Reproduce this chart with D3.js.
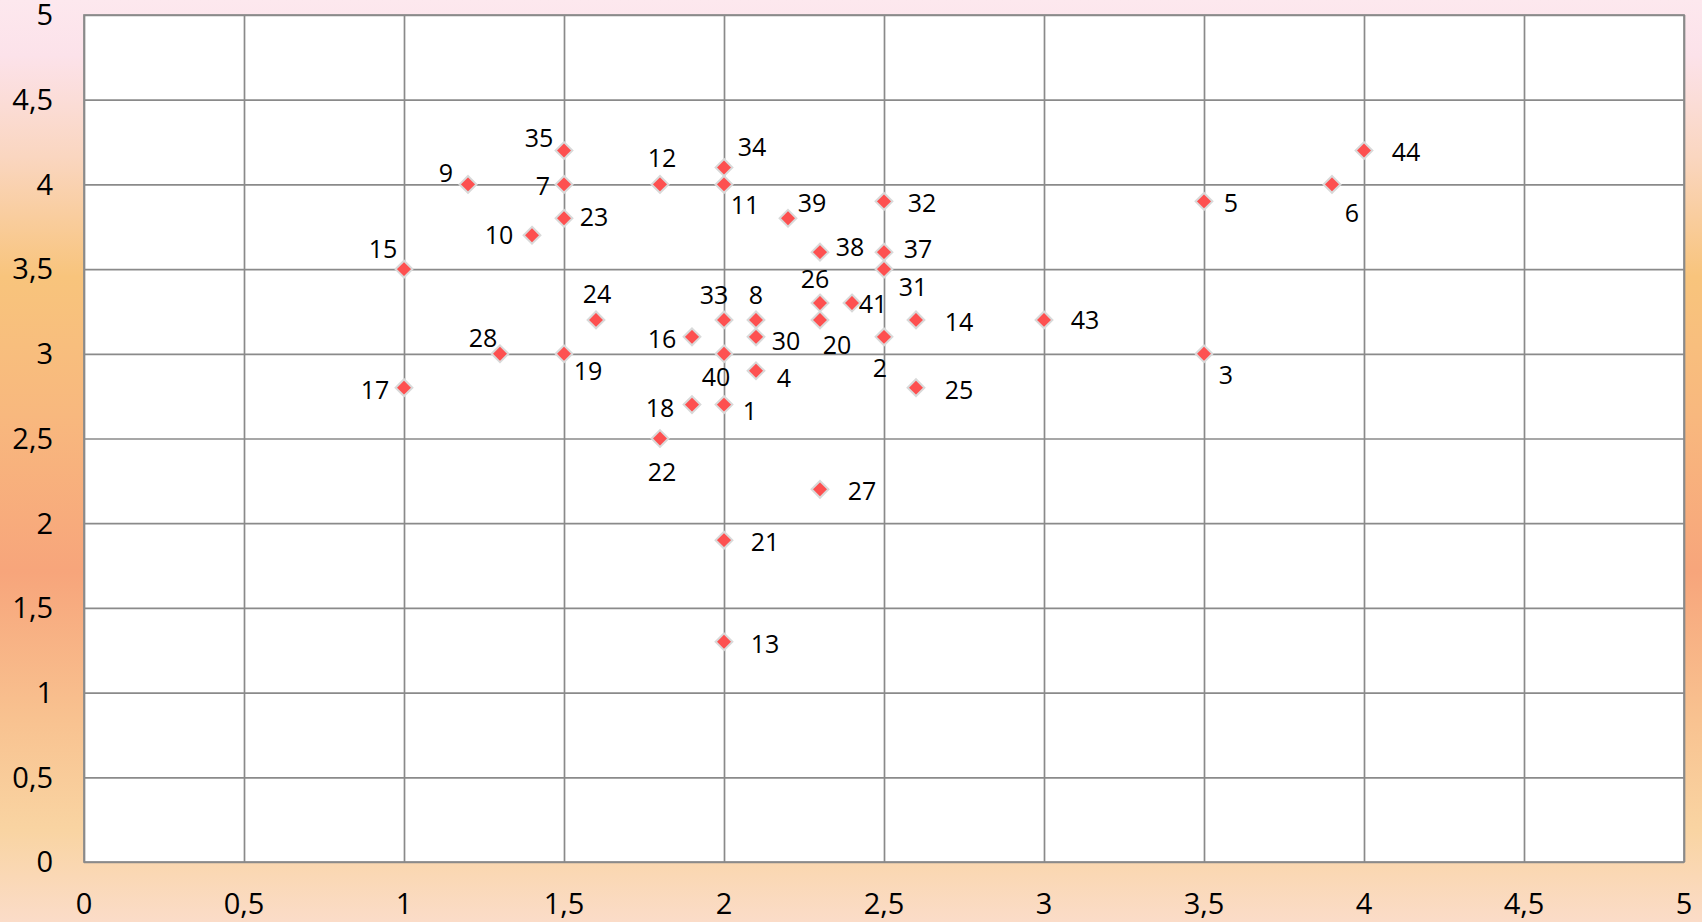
<!DOCTYPE html>
<html>
<head>
<meta charset="utf-8">
<script src="https://cdn.jsdelivr.net/npm/d3@7"></script>
<style>
  html, body { margin: 0; padding: 0; overflow: hidden; }
  svg { display: block; }
</style>
</head>
<body>
<svg id="chart" width="1702" height="922"></svg>
<script>
// ---- data ----
const pointIds = [1,2,3,4,5,6,7,8,9,10,11,12,13,14,15,16,17,18,19,20,21,22,23,24,25,26,27,28,30,31,32,33,34,35,37,38,39,40,41,43,44];
const xValues  = [2.0,2.5,3.5,2.1,3.5,3.9,1.5,2.1,1.2,1.4,2.0,1.8,2.0,2.6,1.0,1.9,1.0,1.9,1.5,2.3,2.0,1.8,1.5,1.6,2.6,2.3,2.3,1.3,2.1,2.5,2.5,2.0,2.0,1.5,2.5,2.3,2.2,2.0,2.4,3.0,4.0];
const yValues  = [2.7,3.1,3.0,2.9,3.9,4.0,4.0,3.2,4.0,3.7,4.0,4.0,1.3,3.2,3.5,3.1,2.8,2.7,3.0,3.2,1.9,2.5,3.8,3.2,2.8,3.3,2.2,3.0,3.1,3.5,3.9,3.2,4.1,4.2,3.6,3.6,3.8,3.0,3.3,3.2,4.2];
const xTickValues = [0,0.5,1,1.5,2,2.5,3,3.5,4,4.5,5];
const yTickValues = [0,0.5,1,1.5,2,2.5,3,3.5,4,4.5,5];
const tickFormat = v => String(v).replace(".", ",");

// ---- layout (label offsets, px, text centre relative to marker) ----
const labelOffsets = [
  [26,6],[-4,31],[22,21],[28,7],[27,2],[20,29],[-21,2],[0,-25],[-22,-11],[-33,0],
  [21,21],[2,-26],[41,2],[43,2],[-21,-20],[-30,2],[-29,2],[-32,3],[24,17],[17,25],
  [41,2],[2,34],[30,-1],[1,-26],[43,2],[-5,-24],[42,2],[-17,-16],[30,4],[29,18],
  [38,2],[-10,-25],[28,-20],[-25,-12],[34,-3],[30,-5],[24,-15],[-8,23],[21,1],[41,0],[42,2]
];

const W = 1702, H = 922;
const plot = { left: 84, right: 1684, top: 15, bottom: 862 };
const svg = d3.select("#chart");

// background gradient
const defs = svg.append("defs");
const grad = defs.append("linearGradient").attr("id", "bg").attr("x1", 0).attr("y1", 0).attr("x2", 0).attr("y2", 1);
[[0,"#fde8ee"],[0.06,"#fce2ea"],[0.17,"#fad6c0"],[0.30,"#f8c47c"],[0.45,"#f8b87e"],[0.62,"#f7a57b"],[0.78,"#f8c290"],[0.90,"#f9d4a2"],[1,"#fbdcc8"]]
  .forEach(([o,c]) => grad.append("stop").attr("offset", o).attr("stop-color", c));
svg.append("rect").attr("width", W).attr("height", H).attr("fill", "url(#bg)");

const x = d3.scaleLinear().domain([0,5]).range([plot.left, plot.right]);
const y = d3.scaleLinear().domain([0,5]).range([plot.bottom, plot.top]);

// plot area
svg.append("rect")
  .attr("x", plot.left).attr("y", plot.top)
  .attr("width", plot.right - plot.left).attr("height", plot.bottom - plot.top)
  .attr("fill", "#ffffff");

const gridColor = "#8a8a8a";
svg.append("g")
  .attr("transform", `translate(0,${plot.bottom})`)
  .call(d3.axisBottom(x).tickValues(xTickValues).tickSize(-(plot.bottom - plot.top)).tickFormat(""))
  .call(g => g.select(".domain").remove())
  .call(g => g.selectAll("line").attr("stroke", gridColor).attr("stroke-width", 1.7));
svg.append("g")
  .attr("transform", `translate(${plot.left},0)`)
  .call(d3.axisLeft(y).tickValues(yTickValues).tickSize(-(plot.right - plot.left)).tickFormat(""))
  .call(g => g.select(".domain").remove())
  .call(g => g.selectAll("line").attr("stroke", gridColor).attr("stroke-width", 1.7));

svg.append("rect")
  .attr("x", plot.left).attr("y", plot.top)
  .attr("width", plot.right - plot.left).attr("height", plot.bottom - plot.top)
  .attr("fill", "none").attr("stroke", gridColor).attr("stroke-width", 1.7);

// tick labels
const tickFont = 29;
const fontFam = "'Open Sans', 'DejaVu Sans', sans-serif";
svg.append("g").selectAll("text").data(yTickValues).join("text")
  .attr("x", 53).attr("y", d => y(d) + tickFont * 0.357)
  .attr("text-anchor", "end")
  .attr("font-family", fontFam).attr("font-size", tickFont).attr("fill", "#000")
  .text(tickFormat);
svg.append("g").selectAll("text").data(xTickValues).join("text")
  .attr("x", d => x(d)).attr("y", 904 + tickFont * 0.357)
  .attr("text-anchor", "middle")
  .attr("font-family", fontFam).attr("font-size", tickFont).attr("fill", "#000")
  .text(tickFormat);

// points
const points = pointIds.map((id, i) => ({ id, x: xValues[i], y: yValues[i], off: labelOffsets[i] }));
const r = 8.4;
const diamond = `M0,${-r}L${r},0L0,${r}L${-r},0Z`;
svg.append("g").selectAll("path").data(points).join("path")
  .attr("d", diamond)
  .attr("transform", d => `translate(${x(d.x)},${y(d.y)})`)
  .attr("fill", "#fd5050")
  .attr("stroke", "#d9d9d9").attr("stroke-width", 2);

// data labels
const labFont = 25;
svg.append("g").selectAll("text").data(points).join("text")
  .attr("x", d => x(d.x) + d.off[0])
  .attr("y", d => y(d.y) + d.off[1] + labFont * 0.357)
  .attr("text-anchor", "middle")
  .attr("font-family", fontFam).attr("font-size", labFont).attr("fill", "#000")
  .text(d => d.id);
</script>
</body>
</html>
